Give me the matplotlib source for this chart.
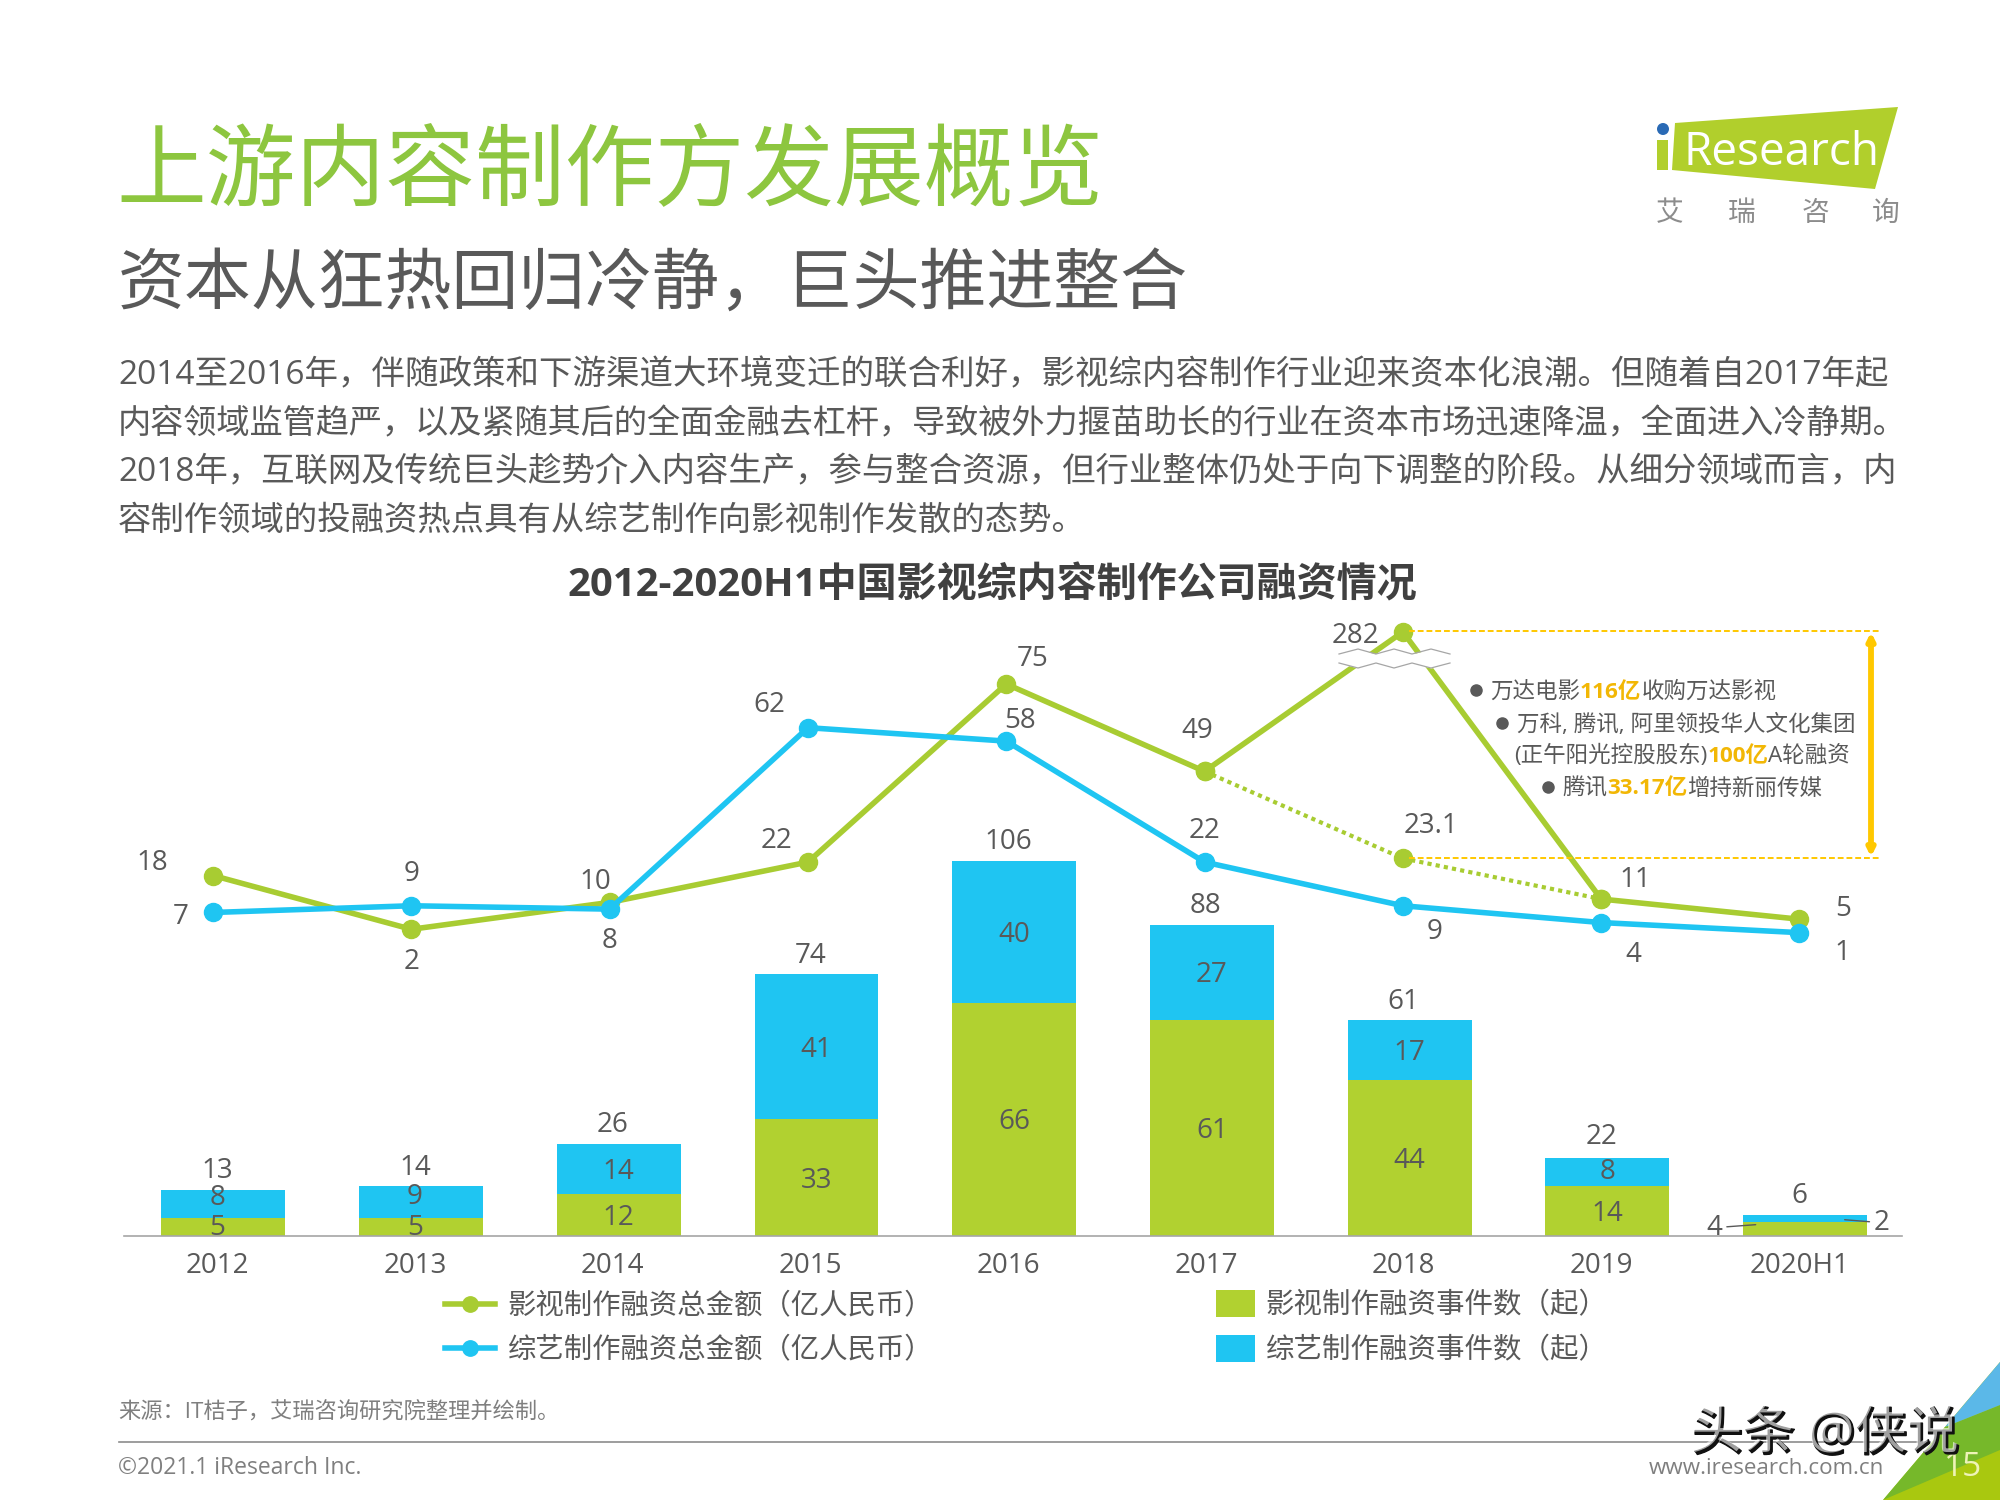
import numpy as np
import matplotlib
matplotlib.use('Agg')
import matplotlib.pyplot as plt
import matplotlib.patheffects as pe
from matplotlib.patches import Polygon, Circle, Rectangle

plt.rcParams['font.family'] = ['Open Sans', 'Noto Sans CJK SC', 'DejaVu Sans']

# ---------- data ----------
categories = ['2012', '2013', '2014', '2015', '2016', '2017', '2018', '2019', '2020H1']
film_events = [5, 5, 12, 33, 66, 61, 44, 14, 4]
variety_events = [8, 9, 14, 41, 40, 27, 17, 8, 2]
film_amount = [18, 2, 10, 22, 75, 49, 282, 11, 5]
variety_amount = [7, 9, 8, 62, 58, 22, 9, 4, 1]
adjusted_amount = [49, 23.1, 11]
adjusted_idx = [5, 6, 7]
film_amount_labels = ['18', '2', '10', '22', '75', '49', '282', '11', '5']
adjusted_label = '23.1'
legend_lines = ['影视制作融资总金额（亿人民币）', '综艺制作融资总金额（亿人民币）']
legend_bars = ['影视制作融资事件数（起）', '综艺制作融资事件数（起）']

title = '上游内容制作方发展概览'
subtitle = '资本从狂热回归冷静，巨头推进整合'
body = ['2014至2016年，伴随政策和下游渠道大环境变迁的联合利好，影视综内容制作行业迎来资本化浪潮。但随着自2017年起',
        '内容领域监管趋严，以及紧随其后的全面金融去杠杆，导致被外力揠苗助长的行业在资本市场迅速降温，全面进入冷静期。',
        '2018年，互联网及传统巨头趁势介入内容生产，参与整合资源，但行业整体仍处于向下调整的阶段。从细分领域而言，内',
        '容制作领域的投融资热点具有从综艺制作向影视制作发散的态势。']
chart_title = '2012-2020H1中国影视综内容制作公司融资情况'

# ---------- style ----------
GREEN_BAR = '#B1D130'
GREEN_LINE = '#A8CC32'
BLUE = '#1FC5F2'
GREY = '#595959'
YELLOW = '#FFC800'
PX = 0.72  # points per pixel at dpi 100
LDY = -3 * PX  # small downward nudge for numeric labels

fig = plt.figure(figsize=(20, 15), dpi=100, facecolor='white')

def frame(left, top, right, bottom):
    return [left / 2000, 1 - bottom / 1500, (right - left) / 2000, (bottom - top) / 1500]

# ---------- background layer in pixel coordinates ----------
bg = fig.add_axes([0, 0, 1, 1], zorder=0)
bg.set_xlim(0, 2000); bg.set_ylim(1500, 0); bg.axis('off')

bg.text(116, 175, title, fontsize=64.6, color='#8DC63F', va='center', weight='light')
bg.text(118, 287, subtitle, fontsize=48.2, color=GREY, va='center', weight='light')
for txt, y, fs in zip(body, [376, 425, 473, 521], [24.1, 23.9, 24.05, 24.0]):
    bg.text(118, y, txt, fontsize=fs, color=GREY, va='center')
bg.text(992, 586, chart_title, fontsize=28.85, color='#404040', va='center', ha='center', weight='bold')

bg.text(118, 1413, '来源：IT桔子，艾瑞咨询研究院整理并绘制。', fontsize=16, color='#7F7F7F', va='center')
bg.plot([119, 1930], [1442, 1442], color='#8C8C8C', lw=1.2)
bg.text(118, 1468, '©2021.1 iResearch Inc.', fontsize=16.5, color='#7F7F7F', va='center')
bg.text(1884, 1468, 'www.iresearch.com.cn', fontsize=16.1, color='#7F7F7F', va='center', ha='right')

# corner
bg.add_patch(Polygon([(1883, 1500), (2000, 1362), (2000, 1500)], closed=True, fc='#A9C80F', ec='none'))
bg.add_patch(Polygon([(1883, 1500), (1945, 1427), (2000, 1405), (2000, 1450)], closed=True, fc='#76B82A', ec='none'))
bg.add_patch(Polygon([(2000, 1362), (1945, 1427), (2000, 1405)], closed=True, fc='#5BB8E8', ec='none'))
bg.text(1963, 1467, '15', fontsize=24, color='#EEF3B8', va='center', ha='center')

# logo
bg.add_patch(Polygon([(1675, 123), (1898, 107), (1875, 189), (1672, 170)], closed=True, fc='#B1CF2C', ec='none'))
bg.add_patch(Rectangle((1657, 140), 11, 30, fc='#B1CF2C', ec='none'))
bg.add_patch(Circle((1663, 129), 6, fc='#2A6AB5', ec='none'))
bg.text(1781, 153, 'Research', fontsize=33, color='white', va='center', ha='center')
for ch, x in zip('艾瑞咨询', [1670, 1742, 1815, 1886]):
    bg.text(x, 214, ch, fontsize=20, color='#8C8C8C', va='center', ha='center')

# ---------- bars ----------
ax = fig.add_axes(frame(124, 600, 1902, 1236), zorder=1)
ax.patch.set_alpha(0)
ax.set_xlim(-0.502, 8.49)
ax.set_ylim(0, 179.8)
x = np.arange(len(categories))
film_e = np.array(film_events)
var_e = np.array(variety_events)
b1 = ax.bar(x, film_e, width=0.626, color=GREEN_BAR, label=legend_bars[0])
b2 = ax.bar(x, var_e, width=0.626, bottom=film_e, color=BLUE, label=legend_bars[1])
for s in ['top', 'left', 'right']:
    ax.spines[s].set_visible(False)
ax.spines['bottom'].set_color('#A6A6A6')
ax.spines['bottom'].set_linewidth(1.2)
ax.set_yticks([])
ax.set_xticks(x - 0.03, categories)
ax.tick_params(axis='x', length=0, pad=11.3, labelsize=20, labelcolor=GREY)

up_var = [7, 7, 0, 0, 0, 0, 0, 3, 0]
up_film = [2, 2, 0, 0, 0, 0, 0, 0, 0]
up_total = [0, 0, 0, 0, 0, 0, 0, 2, 0]
for i in range(len(categories)):
    tot = film_e[i] + var_e[i]
    ax.annotate(str(tot), (i - 0.03, tot), xytext=(0, (21.7 + up_total[i]) * PX + LDY), textcoords='offset points',
                ha='center', va='center', fontsize=20, color=GREY)
    if i < 8:
        ax.annotate(str(film_e[i]), (i - (0.03 if i < 2 else 0), film_e[i] / 2),
                    xytext=(0, up_film[i] * PX * 1.27 + LDY),
                    textcoords='offset points', ha='center', va='center', fontsize=20, color=GREY)
        ax.annotate(str(var_e[i]), (i - (0.03 if i < 2 else 0), film_e[i] + var_e[i] / 2),
                    xytext=(0, up_var[i] * PX * 1.27 + LDY),
                    textcoords='offset points', ha='center', va='center', fontsize=20, color=GREY)
ax.annotate(str(film_e[8]), (8 - 0.25, film_e[8] * 0.8), xytext=(-33 * PX, LDY), textcoords='offset points',
            ha='right', va='center', fontsize=20, color=GREY,
            arrowprops=dict(arrowstyle='-', color=GREY, lw=1, shrinkA=1, shrinkB=0))
ax.annotate(str(var_e[8]), (8 + 0.2, film_e[8] + 0.6), xytext=(29 * PX, LDY), textcoords='offset points',
            ha='left', va='center', fontsize=20, color=GREY,
            arrowprops=dict(arrowstyle='-', color=GREY, lw=1, shrinkA=1, shrinkB=0))

# ---------- lines on a broken scale ----------
BREAK = 80.0
SQUEEZE = 10.5 / 202.0

def forward(v):
    v = np.asarray(v, dtype=float)
    return np.where(v <= BREAK, v, BREAK + (v - BREAK) * SQUEEZE)

def inverse(f):
    f = np.asarray(f, dtype=float)
    return np.where(f <= BREAK, f, BREAK + (f - BREAK) / SQUEEZE)

lx = fig.add_axes(frame(124, 600, 1902, 936), zorder=2)
lx.set_yscale('function', functions=(forward, inverse))
lx.set_xlim(-0.449, 8.517)
lx.set_ylim(0, float(inverse(100.0)))
lx.axis('off')
xl = np.arange(len(categories))
lx.plot(np.array(adjusted_idx), adjusted_amount, color=GREEN_LINE, lw=3, ls=(0, (1, 1)), zorder=2, clip_on=False)
lx.plot(np.array(adjusted_idx), adjusted_amount, ls='none', marker='o', ms=13, color=GREEN_LINE, zorder=3, clip_on=False)
l1, = lx.plot(xl, film_amount, color=GREEN_LINE, lw=4, marker='o', ms=13, mfc=GREEN_LINE, mec=GREEN_LINE,
              label=legend_lines[0], zorder=3, clip_on=False)
l2, = lx.plot(xl, variety_amount, color=BLUE, lw=4, marker='o', ms=13, mfc=BLUE, mec=BLUE,
              label=legend_lines[1], zorder=4, clip_on=False)

green_off = [(-48, 12), (0, -23), (-11, 18), (-25, 19), (21, 22), (-6, 34), (-37, -1), (27, 17), (34, 10)]
blue_off = [(-25, -1), (0, 27), (0, -23), (-30, 20), (11, 18), (0, 27), (25, -18), (25, -23), (34, -14)]
K = 1.2755 * PX
for i, v in enumerate(film_amount):
    lx.annotate(film_amount_labels[i], (i, v), xytext=(green_off[i][0] * K, green_off[i][1] * K + LDY),
                textcoords='offset points', ha='center', va='center', fontsize=20, color=GREY)
for i, v in enumerate(variety_amount):
    lx.annotate(str(v), (i, v), xytext=(blue_off[i][0] * K, blue_off[i][1] * K + LDY),
                textcoords='offset points', ha='center', va='center', fontsize=20, color=GREY)
lx.annotate(adjusted_label, (adjusted_idx[1], adjusted_amount[1]), xytext=(22 * K, 28 * K + LDY),
            textcoords='offset points', ha='center', va='center', fontsize=20, color=GREY)

# ---------- legends ----------
leg1 = fig.legend(handles=[l1, l2], loc='upper left', bbox_to_anchor=(445 / 2000, 1 - 1293 / 1500),
                  frameon=False, fontsize=20.45, labelcolor=GREY, borderpad=0, borderaxespad=0,
                  handlelength=1.75, handletextpad=0.46, labelspacing=0.56, markerscale=0.85)
leg2 = fig.legend(handles=[b1, b2], loc='upper left', bbox_to_anchor=(1216 / 2000, 1 - 1290 / 1500),
                  frameon=False, fontsize=20.5, labelcolor=GREY, borderpad=0, borderaxespad=0,
                  handlelength=1.37, handleheight=1.1, handletextpad=0.38, labelspacing=0.52)

# ---------- overlay ----------
ov = fig.add_axes([0, 0, 1, 1], zorder=3)
ov.set_xlim(0, 2000); ov.set_ylim(1500, 0); ov.axis('off'); ov.patch.set_alpha(0)

wx = np.array([1339, 1358, 1376, 1394, 1412, 1431, 1450])
wa = np.array([2, -3, 2, -3, 2, -3, 2])
wb = np.array([-2, 3, -2, 3, -2, 3, -2])
ov.fill_between(wx, 652 + wa, 665 + wb, color='white', lw=0, zorder=1)
ov.plot(wx, 652 + wa, color='#A6A6A6', lw=0.9, zorder=2)
ov.plot(wx, 665 + wb, color='#A6A6A6', lw=0.9, zorder=2)

ov.plot([1409, 1881], [631, 631], color=YELLOW, lw=1.4, ls=(0, (3, 1.5)))
ov.plot([1409, 1881], [858, 858], color=YELLOW, lw=1.4, ls=(0, (3, 1.5)))
ov.annotate('', xy=(1871, 632), xytext=(1871, 857),
            arrowprops=dict(arrowstyle='<|-|>', color=YELLOW, lw=4.2, shrinkA=0, shrinkB=0, mutation_scale=10))

renderer = fig.canvas.get_renderer()

def rich(x0, y, segs):
    cx = x0
    for txt, col, wt in segs:
        t = ov.text(cx, y, txt, fontsize=16.2, color=col, weight=wt, va='center', ha='left')
        cx += t.get_window_extent(renderer).width

C1 = '#F2B705'
rich(1490, 692, [('万达电影', GREY, 'normal'), ('116亿', C1, 'bold'), ('收购万达影视', GREY, 'normal')])
rich(1517, 725, [('万科, 腾讯, 阿里领投华人文化集团', GREY, 'normal')])
rich(1514, 756, [('(正午阳光控股股东)', GREY, 'normal'), ('100亿', C1, 'bold'), ('A轮融资', GREY, 'normal')])
rich(1562, 789, [('腾讯', GREY, 'normal'), ('33.17亿', C1, 'bold'), ('增持新丽传媒', GREY, 'normal')])
ov.plot([1476, 1502, 1548], [690, 723, 787], ls='none', marker='o', ms=8, color=GREY)

# watermark
ov.text(1826.5, 1437, '头条 @侠说', fontsize=37.5, color='#111111', va='center', ha='center',
        path_effects=[pe.withStroke(linewidth=1.0, foreground='#111111')])
ov.text(1824.5, 1435, '头条 @侠说', fontsize=37.5, color='white', va='center', ha='center', alpha=0.6)

fig.savefig('out.png', dpi=100)
